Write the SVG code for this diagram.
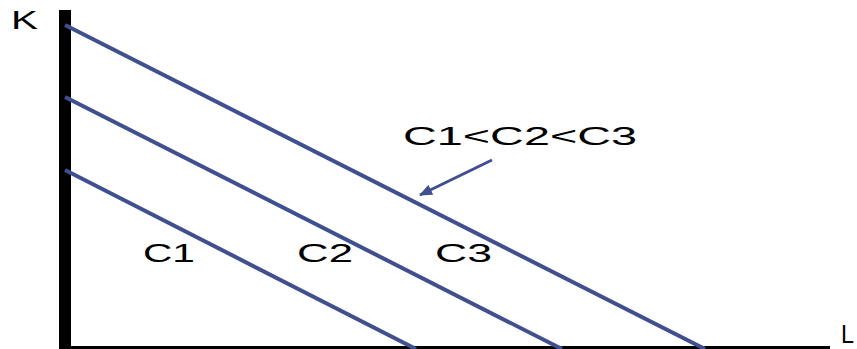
<svg xmlns="http://www.w3.org/2000/svg" width="857" height="349" viewBox="0 0 857 349">
<style>
.lbl{font-family:"Liberation Sans",Arial,sans-serif;font-size:25px;fill:#000}
.curve{stroke:#3f4f8f;stroke-width:4;fill:none}
</style>
<defs>
<marker id="ah" markerWidth="13" markerHeight="11" refX="12" refY="5.5" orient="auto" markerUnits="userSpaceOnUse">
<path d="M0,0 L13,5.5 L0,11 Z" fill="#3f4f8f"/>
</marker>
</defs>
<rect width="857" height="349" fill="#fff"/>
<g id="axes">
<rect x="59" y="10" width="12" height="339" fill="#000"/>
<rect x="59" y="346" width="771" height="3" fill="#000"/>
<text class="lbl" x="11" y="29" textLength="27" lengthAdjust="spacingAndGlyphs">K</text>
<text class="lbl" x="841" y="343" font-size="22" textLength="13" lengthAdjust="spacingAndGlyphs">L</text>
</g>
<g id="connectors">
<line id="c3line" class="curve" x1="65" y1="25" x2="705" y2="349"/>
<line id="c2line" class="curve" x1="65" y1="97" x2="562" y2="349"/>
<line id="c1line" class="curve" x1="65" y1="170" x2="416" y2="349"/>
<line id="arrow" stroke="#3f4f8f" stroke-width="3" x1="492" y1="160" x2="420" y2="195" marker-end="url(#ah)"/>
</g>
<g id="labels">
<text class="lbl" x="143" y="262" textLength="52" lengthAdjust="spacingAndGlyphs">C1</text>
<text class="lbl" x="297" y="262" textLength="56" lengthAdjust="spacingAndGlyphs">C2</text>
<text class="lbl" x="435" y="262" textLength="57" lengthAdjust="spacingAndGlyphs">C3</text>
<text class="lbl" x="403" y="145" textLength="234" lengthAdjust="spacingAndGlyphs">C1&lt;C2&lt;C3</text>
</g>
</svg>
